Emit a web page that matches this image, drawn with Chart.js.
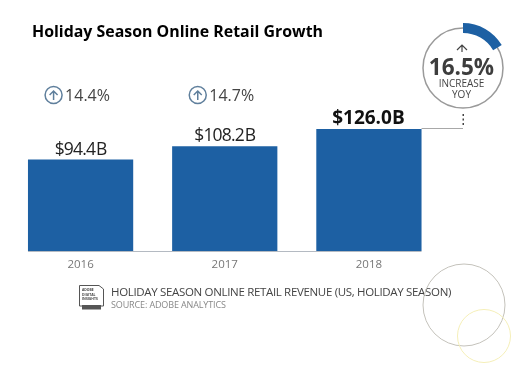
<!DOCTYPE html>
<html lang="en">
<head>
  <meta charset="UTF-8">
  <script src="https://cdn.jsdelivr.net/npm/chart.js"></script>
  <title>Holiday Season Online Retail Growth</title>
  <style>
    html, body { margin: 0; padding: 0; background: #fff; overflow: hidden; }
    #wrap { position: relative; width: 529px; height: 372px; }
  </style>
</head>
<body>
  <div id="wrap"><canvas id="chart" width="529" height="372"></canvas></div>

  <script>
    const years = ['2016', '2017', '2018'];
    const revenue = [94.4, 108.2, 126.0];
    const revenueLabels = ['$94.4 B', '$108.2 B', '$126.0B'];
    const growthLabels = ['14.4%', '14.7%', null];
    const yoyIncrease = 16.5;

    const blue = '#1d60a3';
    const labelFont = '"Open Sans", sans-serif';

    const ctxText = (ctx, text, x, y, font, color, align, spacing) => {
      ctx.font = font;
      ctx.fillStyle = color;
      ctx.textAlign = align || 'center';
      ctx.textBaseline = 'alphabetic';
      ctx.letterSpacing = (spacing || 0) + 'px';
      ctx.fillText(text, x, y);
      ctx.letterSpacing = '0px';
    };

    // everything around the bars: labels, gauge, source line, rings
    const extras = {
      id: 'extras',
      afterDatasetsDraw(chart) {
        const ctx = chart.ctx;
        const bars = chart.getDatasetMeta(0).data;
        const base = bars[0].base;
        ctx.save();

        ctxText(ctx, 'Holiday Season Online Retail Growth', 32, 37,
          '700 15.9px ' + labelFont, '#000', 'left');

        // baseline under the bars
        ctx.strokeStyle = '#b4bac2';
        ctx.lineWidth = 1;
        ctx.beginPath();
        ctx.moveTo(bars[0].x - bars[0].width / 2, base + 0.5);
        ctx.lineTo(bars[2].x + bars[2].width / 2, base + 0.5);
        ctx.stroke();

        // value labels
        bars.forEach((bar, i) => {
          if (i === 2) {
            ctxText(ctx, revenueLabels[i], bar.x - 0.5, bar.y - 5, '700 19px ' + labelFont, '#111');
          } else {
            ctx.wordSpacing = '-3px';
            ctxText(ctx, revenueLabels[i], bar.x, bar.y - 5, '400 17.5px ' + labelFont, '#222', 'center', -0.8);
            ctx.wordSpacing = '0px';
          }
        });

        // growth labels with arrow icon
        growthLabels.forEach((label, i) => {
          if (!label) return;
          const cx = bars[i].x - 27;
          const cy = 95;
          ctx.strokeStyle = '#5f7f9c';
          ctx.lineWidth = 1.5;
          ctx.beginPath();
          ctx.arc(cx, cy, 8.5, 0, Math.PI * 2);
          ctx.stroke();
          ctx.beginPath();
          ctx.moveTo(cx, cy + 5);
          ctx.lineTo(cx, cy - 4);
          ctx.moveTo(cx - 4, cy);
          ctx.lineTo(cx, cy - 4);
          ctx.lineTo(cx + 4, cy);
          ctx.stroke();
          ctxText(ctx, label, cx + 11.5, cy + 6, '400 16px ' + labelFont, '#444', 'left');
        });

        // gauge
        const gx = 463, gy = 68;
        ctx.strokeStyle = '#9a9a9a';
        ctx.lineWidth = 1.5;
        ctx.beginPath();
        ctx.arc(gx, gy, 40, 0, Math.PI * 2);
        ctx.stroke();
        ctx.strokeStyle = blue;
        ctx.lineWidth = 10;
        ctx.beginPath();
        ctx.arc(gx, gy, 40, -Math.PI / 2, -Math.PI / 2 + yoyIncrease / 100 * Math.PI * 2);
        ctx.stroke();
        ctx.strokeStyle = '#444';
        ctx.lineWidth = 1.2;
        ctx.beginPath();
        ctx.moveTo(gx - 6, 50);
        ctx.lineTo(gx - 1, 45);
        ctx.lineTo(gx + 4, 50);
        ctx.moveTo(gx - 1, 45);
        ctx.lineTo(gx - 1, 52);
        ctx.stroke();
        ctxText(ctx, yoyIncrease + '%', gx - 1.5, 75, '700 22.5px ' + labelFont, '#3d3d3d');
        ctxText(ctx, 'INCREASE', gx - 1.5, 87, '400 10px ' + labelFont, '#444');
        ctxText(ctx, 'YOY', gx - 1.5, 98, '400 10px ' + labelFont, '#444');

        // leader from the last bar up to the gauge
        const last = bars[2];
        ctx.strokeStyle = '#a8a8a8';
        ctx.lineWidth = 1;
        ctx.beginPath();
        ctx.moveTo(last.x + last.width / 2, last.y - 0.5);
        ctx.lineTo(gx, last.y - 0.5);
        ctx.stroke();
        ctx.fillStyle = '#444';
        [114, 118.5, 123].forEach(y => ctx.fillRect(gx - 0.5, y, 1.5, 2));

        // source line
        ctx.strokeStyle = '#555';
        ctx.lineWidth = 1;
        ctx.beginPath();
        ctx.moveTo(79.5, 285.5);
        ctx.lineTo(99, 285.5);
        ctx.lineTo(103.5, 289);
        ctx.lineTo(103.5, 306);
        ctx.lineTo(79.5, 306);
        ctx.closePath();
        ctx.stroke();
        ctx.fillStyle = '#555';
        ctx.fillRect(82, 305, 19, 4.5);
        ctxText(ctx, 'ADOBE', 82, 291, '700 3.4px ' + labelFont, '#444', 'left');
        ctxText(ctx, 'DIGITAL', 82, 295.5, '700 3.4px ' + labelFont, '#444', 'left');
        ctxText(ctx, 'INSIGHTS', 82, 300, '700 3.4px ' + labelFont, '#444', 'left');
        ctxText(ctx, 'HOLIDAY SEASON ONLINE RETAIL REVENUE (US, HOLIDAY SEASON)', 111, 296,
          '400 11.5px ' + labelFont, '#444', 'left', -0.33);
        ctxText(ctx, 'SOURCE: ADOBE ANALYTICS', 111, 308, '400 9px ' + labelFont, '#888', 'left', -0.13);

        // decorative rings
        ctx.lineWidth = 1;
        ctx.strokeStyle = '#c4c2bb';
        ctx.beginPath();
        ctx.arc(464, 305, 41, 0, Math.PI * 2);
        ctx.stroke();
        ctx.strokeStyle = '#f5efb8';
        ctx.beginPath();
        ctx.arc(484, 336, 26.5, 0, Math.PI * 2);
        ctx.stroke();

        ctx.restore();
      }
    };

    new Chart(document.getElementById('chart'), {
      type: 'bar',
      data: {
        labels: years,
        datasets: [{ data: revenue, backgroundColor: blue, barPercentage: 0.73, categoryPercentage: 1 }]
      },
      plugins: [extras],
      options: {
        responsive: false,
        animation: false,
        layout: { padding: { left: 8.5, right: 88, top: 38, bottom: 0 } },
        plugins: {
          legend: { display: false },
          tooltip: { enabled: false }
        },
        scales: {
          x: {
            grid: { display: false, drawTicks: false },
            border: { display: false },
            ticks: { color: '#777', font: { family: labelFont, size: 11.5 }, padding: 7 },
            afterFit(scale) { scale.height = 121; }
          },
          y: { display: false, min: 0, max: 220 }
        }
      }
    });
  </script>
</body>
</html>
